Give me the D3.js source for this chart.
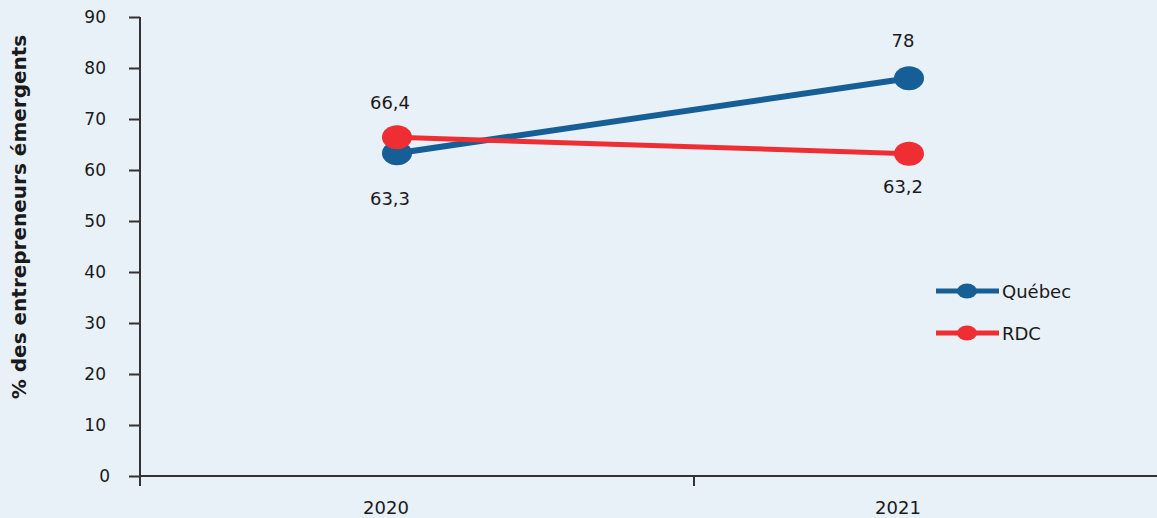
<!DOCTYPE html>
<html lang="fr">
<head>
<meta charset="UTF-8">
<script src="https://cdn.jsdelivr.net/npm/d3@7"></script>
<style>
  body { margin: 0; background: #e8f0f8; }
  text { font-family: "DejaVu Sans", sans-serif; fill: #1a1a1a; }
  .tick-lbl { font-size: 18px; }
  .axis-title { font-size: 20px; font-weight: 700; }
</style>
</head>
<body>
<div id="chart"></div>
<script>
// données
var years = ["2020", "2021"];
var quebec = [63.3, 78];
var rdc = [66.4, 63.2];
var quebecLabels = ["63,3", "78"];
var rdcLabels = ["66,4", "63,2"];
var yTicks = [0, 10, 20, 30, 40, 50, 60, 70, 80, 90];

var width = 1157, height = 518;
var blue = "#165f96", red = "#ef2e33", axisColor = "#333";

var svg = d3.select("#chart").append("svg")
    .attr("width", width)
    .attr("height", height);

svg.append("rect").attr("width", width).attr("height", height).attr("fill", "#e8f0f8");

var y = d3.scaleLinear().domain([0, 90]).range([476, 17]);
// bandes de l'axe x (la deuxième déborde à droite)
var xBand = d3.scaleBand().domain(years).range([140, 1248]);
var x = d3.scalePoint().domain(years).range([397, 909]);

// axe y
var yAxis = svg.append("g").attr("transform", "translate(140,0)")
    .call(d3.axisLeft(y).tickValues(yTicks).tickSize(11).tickPadding(23));
yAxis.select(".domain").attr("stroke", axisColor).attr("stroke-width", 2)
    .attr("d", "M0," + y(90) + "V486");
yAxis.selectAll(".tick line").attr("stroke", axisColor).attr("stroke-width", 2);
yAxis.selectAll(".tick text").style("font-size", "17px").style("font-family", "DejaVu Sans")
    .attr("fill", "#1a1a1a");
yAxis.selectAll(".tick").filter(function (d) { return d === 0; }).select("text").attr("x", -30);

// axe x
svg.append("line")
    .attr("x1", 140).attr("x2", width)
    .attr("y1", y(0)).attr("y2", y(0))
    .attr("stroke", axisColor).attr("stroke-width", 2);
svg.selectAll(".xtick").data(years).enter().append("line")
    .attr("x1", function (d) { return xBand(d); })
    .attr("x2", function (d) { return xBand(d); })
    .attr("y1", y(0)).attr("y2", y(0) + 10)
    .attr("stroke", axisColor).attr("stroke-width", 2);
svg.selectAll(".xlbl").data(years).enter().append("text")
    .attr("class", "tick-lbl")
    .attr("x", function (d) { return x(d) - 11; })
    .attr("y", 514)
    .attr("text-anchor", "middle")
    .text(function (d) { return d; });

// titre axe y
svg.append("text")
    .attr("class", "axis-title")
    .attr("transform", "translate(26,217) rotate(-90)")
    .attr("text-anchor", "middle")
    .text("% des entrepreneurs émergents");

// séries
var series = [
    { name: "Québec", values: quebec, labels: quebecLabels, color: blue, w: 6, dy: [45, -38] },
    { name: "RDC", values: rdc, labels: rdcLabels, color: red, w: 5, dy: [-35, 32] }
];
var line = d3.line()
    .x(function (d, i) { return x(years[i]); })
    .y(function (d) { return y(d); });

series.forEach(function (s) {
    svg.append("path")
        .datum(s.values)
        .attr("d", line)
        .attr("fill", "none")
        .attr("stroke", s.color)
        .attr("stroke-width", s.w);
});
series.forEach(function (s) {
    svg.selectAll(null).data(s.values).enter().append("ellipse")
        .attr("cx", function (d, i) { return x(years[i]); })
        .attr("cy", function (d) { return y(d); })
        .attr("rx", 15).attr("ry", 12)
        .attr("fill", s.color);
    svg.selectAll(null).data(s.values).enter().append("text")
        .attr("class", "tick-lbl")
        .attr("x", function (d, i) { return x(years[i]) + (i === 0 ? -7 : -6); })
        .attr("y", function (d, i) { return y(d) + s.dy[i] + 7; })
        .attr("text-anchor", "middle")
        .text(function (d, i) { return s.labels[i]; });
});

// légende
var legend = svg.append("g").attr("transform", "translate(936,291)");
series.forEach(function (s, i) {
    var g = legend.append("g").attr("transform", "translate(0," + i * 42 + ")");
    g.append("line").attr("x1", 0).attr("x2", 63).attr("stroke", s.color).attr("stroke-width", 5);
    g.append("ellipse").attr("cx", 31).attr("rx", 10).attr("ry", 7.5).attr("fill", s.color);
    g.append("text").attr("class", "tick-lbl").attr("x", 66).attr("y", 7).text(s.name);
});
</script>
</body>
</html>
